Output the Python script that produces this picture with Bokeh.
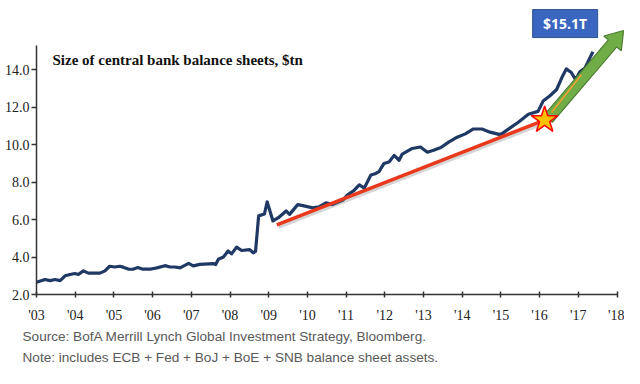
import numpy as np
from bokeh.plotting import figure
from bokeh.models import FixedTicker, Label, Range1d, Title
from bokeh.core.properties import value
from bokeh.embed import file_html
from bokeh.resources import INLINE

# ---- data ----
years = [2003.00, 2003.10, 2003.22, 2003.35, 2003.48, 2003.61, 2003.74, 2003.87, 2003.99,
         2004.08, 2004.21, 2004.34, 2004.64, 2004.77, 2004.89, 2005.02, 2005.15, 2005.24,
         2005.37, 2005.49, 2005.62, 2005.75, 2005.96, 2006.11, 2006.32, 2006.45, 2006.58,
         2006.71, 2006.93, 2007.05, 2007.22, 2007.57, 2007.63, 2007.70, 2007.83, 2007.95,
         2008.04, 2008.17, 2008.30, 2008.51, 2008.60, 2008.66, 2008.74, 2008.89, 2008.96,
         2009.11, 2009.25, 2009.45, 2009.54, 2009.75, 2009.88, 2010.14, 2010.30, 2010.48,
         2010.65, 2010.91, 2011.04, 2011.20, 2011.34, 2011.47, 2011.64, 2011.75, 2011.85,
         2011.98, 2012.11, 2012.24, 2012.37, 2012.45, 2012.71, 2012.92, 2013.10, 2013.26,
         2013.45, 2013.65, 2013.87, 2014.08, 2014.29, 2014.51, 2014.72, 2014.95, 2015.02,
         2015.24, 2015.45, 2015.71, 2015.96, 2016.09, 2016.26, 2016.44, 2016.57, 2016.69,
         2016.82, 2016.93, 2017.04, 2017.17, 2017.29, 2017.38]
sizes = [2.65, 2.72, 2.80, 2.74, 2.80, 2.74, 3.00, 3.07, 3.12,
         3.07, 3.26, 3.14, 3.14, 3.26, 3.51, 3.47, 3.51, 3.46,
         3.36, 3.35, 3.44, 3.35, 3.36, 3.42, 3.54, 3.47, 3.47,
         3.42, 3.66, 3.53, 3.61, 3.65, 3.60, 3.88, 4.00, 4.32,
         4.17, 4.53, 4.35, 4.40, 4.23, 4.30, 6.20, 6.30, 6.95,
         5.93, 6.10, 6.46, 6.28, 6.80, 6.75, 6.63, 6.68, 6.90,
         6.80, 7.03, 7.33, 7.55, 7.86, 7.68, 8.38, 8.45, 8.56,
         9.00, 9.08, 9.43, 9.17, 9.50, 9.80, 9.88, 9.60, 9.70,
         9.85, 10.14, 10.40, 10.58, 10.84, 10.84, 10.67, 10.55, 10.58,
         10.90, 11.20, 11.63, 11.78, 12.33, 12.60, 12.95, 13.56, 14.05,
         13.86, 13.47, 13.90, 14.09, 14.60, 14.96]

x_ticks = list(range(2003, 2019))
x_tick_labels = ["'03", "'04", "'05", "'06", "'07", "'08", "'09", "'10",
                 "'11", "'12", "'13", "'14", "'15", "'16", "'17", "'18"]
y_ticks = [2, 4, 6, 8, 10, 12, 14]
y_tick_labels = ["2.0", "4.0", "6.0", "8.0", "10.0", "12.0", "14.0"]

trend_x = [2009.21, 2016.11]
trend_y = [5.72, 11.30]
star_x = [2016.13]
star_y = [11.32]
arrow_base = (2016.22, 11.38)
arrow_tip = (2018.17, 16.10)
accent_x = [2016.31, 2017.08]
accent_y = [11.72, 13.74]
callout_x = [2016.66]
callout_y = [16.47]
callout_text = ["$15.1T"]

title_text = "Size of central bank balance sheets, $tn"
source_text = "Source: BofA Merrill Lynch Global Investment Strategy, Bloomberg."
note_text = "Note: includes ECB + Fed + BoJ + BoE + SNB  balance sheet assets."

# ---- layout ----
W, H = 624, 368
LEFT, BOTTOM = 36, 72
frame_w = W - LEFT
frame_h = H - BOTTOM
X0, X1 = 2003, 2003 + frame_w / 38.7
Y0, Y1 = 2, 2 + frame_h / 18.85
sx = frame_w / (X1 - X0)   # px per year
sy = frame_h / (Y1 - Y0)   # px per unit

p = figure(width=W, height=H, x_range=Range1d(X0, X1), y_range=Range1d(Y0, Y1),
           output_backend="svg", toolbar_location=None,
           min_border_left=LEFT, min_border_right=0, min_border_top=0,
           min_border_bottom=BOTTOM)
p.outline_line_color = None
p.grid.visible = False
p.background_fill_color = "white"
p.border_fill_color = "white"

serif = "Liberation Serif"
for ax in (p.xaxis[0], p.yaxis[0]):
    ax.axis_line_color = "#333333"
    ax.axis_line_width = 1.5
    ax.major_tick_line_color = "#333333"
    ax.major_tick_line_width = 1.5
    ax.minor_tick_line_color = None
    ax.major_label_text_font = serif
    ax.major_label_text_font_size = "14px"
    ax.major_label_text_color = "#222222"

p.xaxis.ticker = FixedTicker(ticks=x_ticks)
p.xaxis.major_label_overrides = {t: l for t, l in zip(x_ticks, x_tick_labels)}
p.xaxis.bounds = (2003, 2018)
p.xaxis.major_tick_in = 3
p.xaxis.major_tick_out = 3
p.xaxis.major_label_standoff = 10

p.yaxis.ticker = FixedTicker(ticks=y_ticks)
p.yaxis.major_label_overrides = {t: l for t, l in zip(y_ticks, y_tick_labels)}
p.yaxis.bounds = (2, 15.3)
p.yaxis.major_tick_in = 0
p.yaxis.major_tick_out = 5
p.yaxis.major_label_standoff = 2

# series
p.line(years, sizes, line_color="#1f3864", line_width=3.2, line_join="round")

# trend line with soft shadow
p.line([x + 1.5 / sx for x in trend_x], [y - 2 / sy for y in trend_y],
       line_color="#888888", line_alpha=0.35, line_width=4)
p.line(trend_x, trend_y, line_color="#e8391d", line_width=3.5)

# green arrow polygon, built in pixel space
bx, by = (arrow_base[0] - X0) * sx, (arrow_base[1] - Y0) * sy
tx, ty = (arrow_tip[0] - X0) * sx, (arrow_tip[1] - Y0) * sy
d = np.array([tx - bx, ty - by])
u = d / np.hypot(*d)
n = np.array([u[1], -u[0]])
bw, hw, hl = 5.5, 11.5, 17
b = np.array([bx, by])
t = np.array([tx, ty])
neck = t - u * hl
pts = [b - n * bw, neck - n * bw, neck - n * hw, t, neck + n * hw, neck + n * bw, b + n * bw]
p.patch([X0 + q[0] / sx for q in pts], [Y0 + q[1] / sy for q in pts],
        fill_color="#70ad47", line_color="#507e32", line_width=1.2)

p.line(accent_x, accent_y, line_color="#f4a030", line_width=1.5)

p.scatter(star_x, star_y, marker="star", size=28, fill_color="#ffc000",
          line_color="#ff0000", line_width=1.5)

# callout box
p.rect(callout_x, callout_y, width=65, height=28, width_units="screen",
       height_units="screen", fill_color="#3a66bf", line_color="#2f528f", line_width=1)
p.text(callout_x, callout_y, text=callout_text, text_align="center",
       text_baseline="middle", text_color="white", text_font=value("Open Sans"),
       text_font_style="bold", text_font_size="14px")

p.add_layout(Label(x=16, y=235, x_units="screen", y_units="screen", text=title_text,
                   text_font=serif, text_font_style="bold", text_font_size="15px",
                   text_color="#111111", text_baseline="middle"))

for txt, so in ((source_text, 2), (note_text, 7)):
    p.add_layout(Title(text=txt, align="left", offset=-14, standoff=so,
                       text_font="Liberation Sans", text_font_size="13.6px",
                       text_font_style="normal", text_color="#595959"), "below")

open("out.html", "w").write(file_html(p, INLINE))
